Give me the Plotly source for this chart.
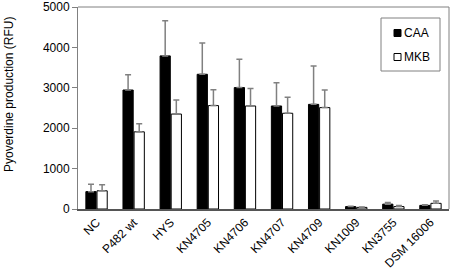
import plotly.graph_objects as go

categories = ["NC", "P482 wt", "HYS", "KN4705", "KN4706", "KN4707", "KN4709", "KN1009", "KN3755", "DSM 16006"]
caa = [430, 2945, 3790, 3335, 3005, 2550, 2590, 60, 120, 90]
caa_err = [180, 380, 870, 775, 700, 575, 950, 10, 40, 15]
mkb = [450, 1910, 2350, 2560, 2550, 2370, 2510, 40, 60, 140]
mkb_err = [150, 200, 350, 390, 430, 395, 435, 8, 25, 60]
series_names = ["CAA", "MKB"]

# plot area in pixels (for placing the hand-made legend and title)
W, H = 454, 279
L, R, T, B = 78, 5, 7, 70
pw, ph = W - L - R, H - T - B

def px(x):
    return (x - L) / pw

def py(y):
    return (H - B - y) / ph

fig = go.Figure()
fig.add_trace(go.Bar(
    name=series_names[0], x=categories, y=caa,
    marker=dict(color="black", line=dict(color="black", width=1)),
    error_y=dict(type="data", array=caa_err, arrayminus=[0]*len(caa_err),
                 symmetric=False, color="#808080", thickness=1.5, width=3),
))
fig.add_trace(go.Bar(
    name=series_names[1], x=categories, y=mkb,
    marker=dict(color="white", line=dict(color="black", width=1)),
    error_y=dict(type="data", array=mkb_err, arrayminus=[0]*len(mkb_err),
                 symmetric=False, color="#808080", thickness=1.5, width=3),
))

fig.update_layout(
    width=W, height=H,
    margin=dict(l=L, r=R, t=T, b=B, autoexpand=False),
    paper_bgcolor="white", plot_bgcolor="white",
    barmode="group", bargap=0.4, bargroupgap=0.08,
    font=dict(family="Liberation Sans, Arial, sans-serif", size=12, color="black"),
    showlegend=False,
)
fig.update_xaxes(
    automargin=False,
    showline=True, linecolor="#555555", linewidth=1.5, mirror=False,
    ticks="", tickangle=-45, tickfont=dict(size=12),
)
fig.update_yaxes(
    automargin=False,
    range=[0, 5000], dtick=1000, showgrid=False, zeroline=False,
    showline=True, linecolor="#808080", linewidth=1, mirror=False,
    ticks="outside", ticklen=5, tickcolor="#808080",
    tickfont=dict(size=12),
)
# frame on top and right
fig.add_shape(type="line", xref="paper", yref="paper", x0=0, x1=1, y0=1, y1=1,
              line=dict(color="#808080", width=1))
fig.add_shape(type="line", xref="paper", yref="paper", x0=1, x1=1, y0=0, y1=1,
              line=dict(color="#808080", width=1))

# y-axis title
fig.add_annotation(text="Pyoverdine production (RFU)", xref="paper", yref="paper",
                   x=px(9), y=py(95), textangle=-90, showarrow=False,
                   xanchor="center", yanchor="middle", font=dict(size=12))

# legend box
fig.add_shape(type="rect", xref="paper", yref="paper",
              x0=px(381), x1=px(440), y0=py(71), y1=py(18),
              line=dict(color="#808080", width=1), fillcolor="white")
for i, (name, fill) in enumerate(zip(series_names, ["black", "white"])):
    cy = 33 + i * 24
    fig.add_shape(type="rect", xref="paper", yref="paper",
                  x0=px(394), x1=px(401), y0=py(cy + 3.5), y1=py(cy - 3.5),
                  line=dict(color="black", width=1), fillcolor=fill)
    fig.add_annotation(text=name, xref="paper", yref="paper",
                       x=px(402), y=py(cy), showarrow=False,
                       xanchor="left", yanchor="middle", font=dict(size=12))

fig.write_html("out.html", config={"displayModeBar": False},
               post_script="document.body.style.margin='0';document.body.style.overflow='hidden';")
